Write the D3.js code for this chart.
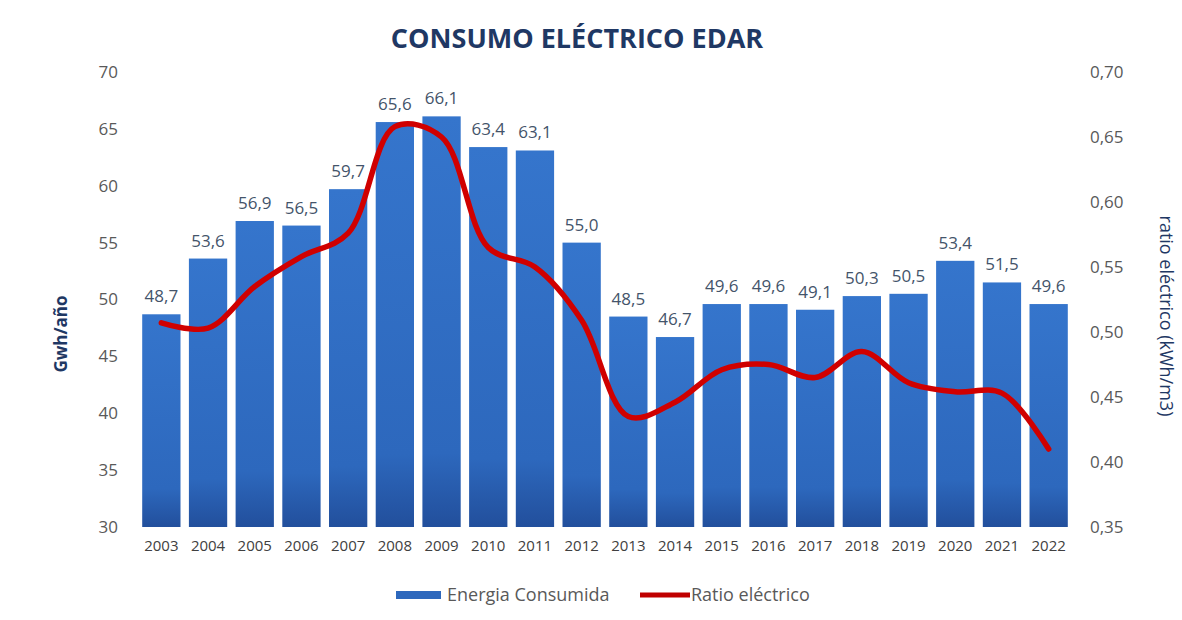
<!DOCTYPE html>
<html lang="es">
<head>
<meta charset="UTF-8">
<title>Consumo eléctrico EDAR</title>
<script src="https://d3js.org/d3.v7.min.js"></script>
<style>
  body { margin: 0; background: #fff; }
  text { font-family: "Open Sans", "Noto Sans", sans-serif; }
</style>
</head>
<body>
<div id="chart"></div>
<script>
// data
const years = ["2003","2004","2005","2006","2007","2008","2009","2010","2011","2012",
               "2013","2014","2015","2016","2017","2018","2019","2020","2021","2022"];
const energia = [48.7,53.6,56.9,56.5,59.7,65.6,66.1,63.4,63.1,55.0,
                 48.5,46.7,49.6,49.6,49.1,50.3,50.5,53.4,51.5,49.6];
const ratio = [0.507,0.503,0.535,0.558,0.576,0.658,0.650,0.565,0.550,0.509,
               0.435,0.446,0.471,0.475,0.465,0.485,0.461,0.454,0.453,0.410];
const leftTicks = [30,35,40,45,50,55,60,65,70];
const rightTicks = [0.35,0.40,0.45,0.50,0.55,0.60,0.65,0.70];

const W = 1182, H = 620;
const m = {top: 72, right: 110, bottom: 93, left: 138};

const svg = d3.select("#chart").append("svg")
  .attr("width", W).attr("height", H);

const defs = svg.append("defs");
const grad = defs.append("linearGradient").attr("id", "barGrad")
  .attr("x1", 0).attr("y1", 0).attr("x2", 0).attr("y2", 1);
grad.append("stop").attr("offset", "0%").attr("stop-color", "#3575cc");
grad.append("stop").attr("offset", "82%").attr("stop-color", "#2d68bd");
grad.append("stop").attr("offset", "100%").attr("stop-color", "#224f9c");

const x = d3.scaleBand().domain(years)
  .range([m.left, W - m.right]).paddingInner(0.18).paddingOuter(0.09);
const y = d3.scaleLinear().domain([30, 70]).range([H - m.bottom, m.top]);
const y2 = d3.scaleLinear().domain([0.35, 0.70]).range([H - m.bottom, m.top]);

const fmt1 = d3.format(".1f");
const comma = s => s.replace(".", ",");

// title
svg.append("text")
  .attr("x", 577).attr("y", 48)
  .attr("text-anchor", "middle")
  .attr("font-size", 27).attr("font-weight", "bold")
  .attr("fill", "#1f3864")
  .text("CONSUMO ELÉCTRICO EDAR");

// left axis
const yAxis = d3.axisLeft(y).tickValues(leftTicks).tickSize(0).tickPadding(20);
svg.append("g").attr("transform", `translate(${m.left},0)`).call(yAxis)
  .call(g => g.select(".domain").remove())
  .selectAll("text").attr("font-size", 17).attr("fill", "#595959")
  .style("font-family", "'Open Sans', sans-serif");

// right axis
const yAxis2 = d3.axisRight(y2).tickValues(rightTicks).tickSize(0).tickPadding(18)
  .tickFormat(d => comma(d3.format(".2f")(d)));
svg.append("g").attr("transform", `translate(${W - m.right},0)`).call(yAxis2)
  .call(g => g.select(".domain").remove())
  .selectAll("text").attr("font-size", 17).attr("fill", "#595959")
  .style("font-family", "'Open Sans', sans-serif");

// x axis
const xAxis = d3.axisBottom(x).tickSize(0).tickPadding(13);
svg.append("g").attr("transform", `translate(0,${H - m.bottom})`).call(xAxis)
  .call(g => g.select(".domain").remove())
  .selectAll("text").attr("font-size", 15).attr("fill", "#404040")
  .style("font-family", "'Open Sans', sans-serif");

// axis titles
svg.append("text")
  .attr("transform", "translate(67,334) rotate(-90)")
  .attr("text-anchor", "middle")
  .attr("font-size", 17).attr("font-weight", "bold").attr("fill", "#1f3864")
  .text("Gwh/año");
svg.append("text")
  .attr("transform", "translate(1160,316) rotate(90)")
  .attr("text-anchor", "middle")
  .attr("font-size", 18).attr("fill", "#1f3864")
  .text("ratio eléctrico (kWh/m3)");

// bars
svg.append("g").selectAll("rect")
  .data(energia)
  .join("rect")
  .attr("x", (d, i) => x(years[i]))
  .attr("y", d => y(d))
  .attr("width", x.bandwidth())
  .attr("height", d => y(30) - y(d))
  .attr("fill", "url(#barGrad)");

// bar labels
svg.append("g").selectAll("text")
  .data(energia)
  .join("text")
  .attr("x", (d, i) => x(years[i]) + x.bandwidth() / 2)
  .attr("y", d => y(d) - 12)
  .attr("text-anchor", "middle")
  .attr("font-size", 17).attr("fill", "#44546a")
  .text(d => comma(fmt1(d)));

// ratio line
const line = d3.line()
  .x((d, i) => x(years[i]) + x.bandwidth() / 2)
  .y(d => y2(d))
  .curve(d3.curveCatmullRom.alpha(0.5));
svg.append("path")
  .datum(ratio)
  .attr("d", line)
  .attr("fill", "none")
  .attr("stroke", "#d00000")
  .attr("stroke-width", 5.5)
  .attr("stroke-linecap", "round");

// legend
const lg = svg.append("g");
lg.append("rect").attr("x", 396).attr("y", 591).attr("width", 45).attr("height", 8)
  .attr("fill", "#2d68bd");
lg.append("text").attr("x", 447).attr("y", 601)
  .attr("font-size", 18).attr("fill", "#595959").text("Energia Consumida");
lg.append("line").attr("x1", 640).attr("x2", 690).attr("y1", 595).attr("y2", 595)
  .attr("stroke", "#c00000").attr("stroke-width", 5);
lg.append("text").attr("x", 691).attr("y", 601)
  .attr("font-size", 18).attr("fill", "#595959").text("Ratio eléctrico");
</script>
</body>
</html>
